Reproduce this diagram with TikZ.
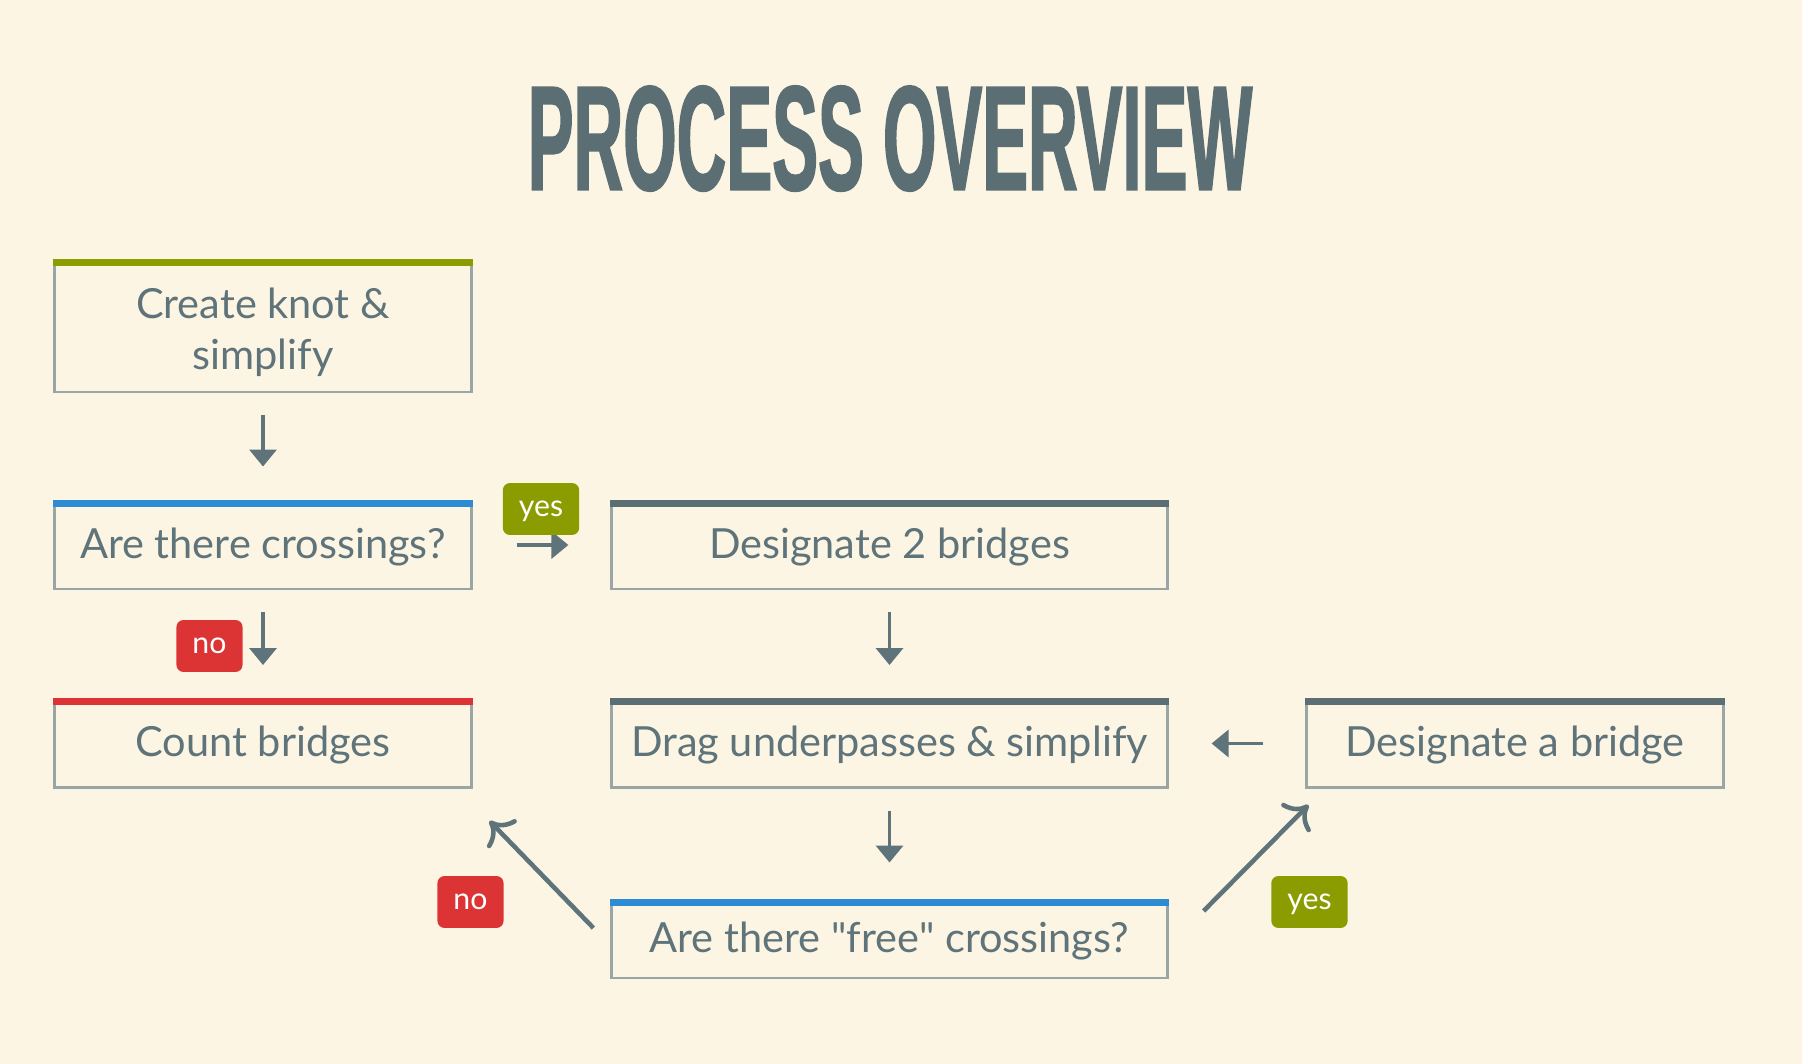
\documentclass[tikz,border=0pt]{standalone}
\usepackage{fontspec}
\setmainfont{Lato}
\newfontfamily\titlefont[FakeStretch=0.46, FakeBold=1]{Liberation Sans}
\usetikzlibrary{arrows.meta}
\definecolor{paper}{HTML}{FCF5E3}
\definecolor{ink}{HTML}{5F747A}
\definecolor{frame}{HTML}{9AA5A6}
\definecolor{olive}{HTML}{8A9C00}
\definecolor{sky}{HTML}{2B8BD3}
\definecolor{alert}{HTML}{DC3434}
\definecolor{slate}{HTML}{5A6E74}
\tikzset{>={Triangle[length=0.17cm, width=0.27cm]}}

\begin{document}
\begin{tikzpicture}[x=0.01cm, y=-0.01cm,
  box/.style={draw=frame, line width=0.8pt, fill=paper, text=ink, align=center,
    inner sep=0pt, minimum width=4.16cm, minimum height=0.88cm,
    text height=0.95em, text depth=0.2em,
    font=\fontsize{11.8}{14.4}\selectfont},
  tag/.style={fill=#1, text=white, rounded corners=0.07cm, inner xsep=0.16cm,
    minimum height=0.5cm, text height=1.2ex, text depth=0.4ex,
    font=\fontsize{8.6}{10}\selectfont},
  step arrow/.style={->, draw=ink, line width=1pt},
  jump arrow/.style={-{Computer Modern Rightarrow[length=0.2cm, width=0.4cm]}, draw=ink, line width=1.3pt}]

\fill[paper] (0,0) rectangle (1802,1064);

\node[anchor=base, text=slate, font=\titlefont\bfseries\fontsize{42.5}{45}\selectfont] (title) at (890,190) {PROCESS OVERVIEW};

% left column
\node[box, minimum height=1.32cm, text height=26.5pt, text depth={}] (make) at (263,326) {Create knot \&\\simplify};
\node[box] (cross) at (263,545) {Are there crossings?};
\node[box] (count) at (263,743.5) {Count bridges};

% middle column
\node[box, minimum width=5.55cm] (two) at (889.5,545) {Designate 2 bridges};
\node[box, minimum width=5.55cm] (drag) at (889.5,743.5) {Drag underpasses \& simplify};
\node[box, minimum width=5.55cm, minimum height=0.78cm] (free) at (889.5,939) {Are there \textquotedbl free\textquotedbl\ crossings?};

% right column
\node[box] (one) at (1515,743.5) {Designate a bridge};

% colour bars
\fill[olive] (make.north west) rectangle ([yshift=-0.07cm]make.north east);
\fill[sky] (cross.north west) rectangle ([yshift=-0.07cm]cross.north east);
\fill[alert] (count.north west) rectangle ([yshift=-0.07cm]count.north east);
\fill[slate] (two.north west) rectangle ([yshift=-0.07cm]two.north east);
\fill[slate] (drag.north west) rectangle ([yshift=-0.07cm]drag.north east);
\fill[sky] (free.north west) rectangle ([yshift=-0.07cm]free.north east);
\fill[slate] (one.north west) rectangle ([yshift=-0.07cm]one.north east);

% arrows
\draw[step arrow, shorten <=0.22cm, shorten >=0.33cm] (make) -- (cross);
\draw[step arrow, shorten <=0.22cm, shorten >=0.33cm] (cross) -- (count);
\draw[step arrow, shorten <=0.44cm, shorten >=0.42cm] (cross) -- (two);
\draw[step arrow, shorten <=0.22cm, shorten >=0.33cm] (two) -- (drag);
\draw[step arrow, shorten <=0.22cm, shorten >=0.36cm] (drag) -- (free);
\draw[step arrow, shorten <=0.42cm, shorten >=0.43cm] (one) -- (drag);
\draw[jump arrow] ([xshift=-0.17cm, yshift=0.11cm]free.west) -- ([xshift=0.17cm, yshift=-0.32cm]count.south east);
\draw[jump arrow] ([xshift=0.35cm, yshift=0.28cm]free.east) -- ([xshift=0.03cm, yshift=-0.16cm]one.south west);

% answers
\node[tag=olive] (yesA) at (541,509) {yes};
\node[tag=alert] (noA) at (209.5,646) {no};
\node[tag=alert] (noB) at (470.5,902) {no};
\node[tag=olive] (yesB) at (1309.5,902) {yes};

\end{tikzpicture}
\end{document}
